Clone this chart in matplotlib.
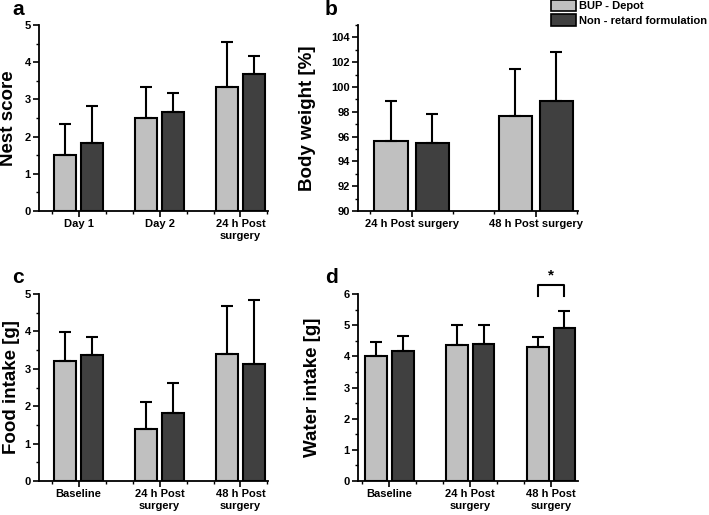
import matplotlib
matplotlib.use("Agg")
import matplotlib.pyplot as plt
from matplotlib.patches import Patch
from matplotlib.ticker import MultipleLocator
import numpy as np

plt.rcParams['font.family'] = ['Liberation Sans', 'DejaVu Sans']
plt.rcParams['font.weight'] = 'bold'

series_names = ["BUP - Depot", "Non - retard formulation"]
colors = ["#c0c0c0", "#404040"]

# Panel a: Nest score
a_cats = ["Day 1", "Day 2", "24 h Post\nsurgery"]
a_depot = [1.50, 2.50, 3.33]
a_depot_err = [0.83, 0.83, 1.22]
a_nonret = [1.83, 2.67, 3.67]
a_nonret_err = [0.99, 0.51, 0.51]

# Panel b: Body weight
b_cats = ["24 h Post surgery", "48 h Post surgery"]
b_depot = [95.65, 97.70]
b_depot_err = [3.22, 3.72]
b_nonret = [95.48, 98.85]
b_nonret_err = [2.38, 3.97]

# Panel c: Food intake
c_cats = ["Baseline", "24 h Post\nsurgery", "48 h Post\nsurgery"]
c_depot = [3.21, 1.40, 3.39]
c_depot_err = [0.78, 0.70, 1.30]
c_nonret = [3.37, 1.83, 3.14]
c_nonret_err = [0.49, 0.78, 1.69]

# Panel d: Water intake
d_cats = ["Baseline", "24 h Post\nsurgery", "48 h Post\nsurgery"]
d_depot = [4.02, 4.37, 4.31]
d_depot_err = [0.43, 0.63, 0.30]
d_nonret = [4.18, 4.41, 4.92]
d_nonret_err = [0.46, 0.61, 0.54]

W, H = 709, 515
fig = plt.figure(figsize=(W/100, H/100), dpi=100)

def px_axes(l, r, t, b):
    return fig.add_axes([l/W, 1-b/H, (r-l)/W, (b-t)/H])

def panel(ax, cats, v1, e1, v2, e2, ylim, ymaj, ymin, xlim, ylabel, labx):
    x = np.arange(len(cats))
    w = 0.27
    off = 0.166
    ekw = dict(ecolor='black', elinewidth=1.5, capsize=4, capthick=1.5)
    ax.bar(x-off, v1, w, color=colors[0], edgecolor='black', linewidth=1.5,
           yerr=[np.zeros(len(v1)), e1], error_kw=ekw, zorder=2)
    ax.bar(x+off, v2, w, color=colors[1], edgecolor='black', linewidth=1.5,
           yerr=[np.zeros(len(v2)), e2], error_kw=ekw, zorder=2)
    ax.set_xlim(*xlim)
    ax.set_ylim(*ylim)
    ax.set_xticks(x)
    ax.set_xticklabels(cats, fontsize=8, fontweight='bold')
    ax.xaxis.set_minor_locator(MultipleLocator(1/3))
    ax.yaxis.set_major_locator(MultipleLocator(ymaj))
    ax.yaxis.set_minor_locator(MultipleLocator(ymin))
    ax.tick_params(which='major', direction='out', length=4, width=1.2, pad=2,
                   labelsize=8)
    ax.tick_params(which='minor', direction='out', length=2, width=1.0)
    ax.spines['top'].set_visible(False)
    ax.spines['right'].set_visible(False)
    ax.spines['left'].set_linewidth(1.3)
    ax.spines['bottom'].set_linewidth(1.3)
    ax.set_ylabel(ylabel, fontsize=13.5, fontweight='bold')
    ax.yaxis.set_label_coords(labx, 0.5)

axa = px_axes(39, 268, 25, 211)
panel(axa, a_cats, a_depot, a_depot_err, a_nonret, a_nonret_err,
      (0, 5), 1, 0.5, (-0.49, 2.34), "Nest score", -0.095)

axb = px_axes(358, 578, 25, 211)
panel(axb, b_cats, b_depot, b_depot_err, b_nonret, b_nonret_err,
      (90, 105), 2, 1, (-0.434, 1.34), "Body weight [%]", -0.19)
axb.set_yticks(np.arange(90, 105, 2))

axc = px_axes(39, 268, 294, 481)
panel(axc, c_cats, c_depot, c_depot_err, c_nonret, c_nonret_err,
      (0, 5), 1, 0.5, (-0.49, 2.34), "Food intake [g]", -0.085)

axd = px_axes(358, 578, 294, 481)
panel(axd, d_cats, d_depot, d_depot_err, d_nonret, d_nonret_err,
      (0, 6), 1, 0.5, (-0.386, 2.333), "Water intake [g]", -0.17)

for ax in (axa, axb, axc, axd):
    for lbl in ax.get_yticklabels() + ax.get_xticklabels():
        lbl.set_fontweight('bold')

# significance bracket in d
bx1, bx2 = 2 - 0.166, 2 + 0.166
axd.plot([bx1, bx1, bx2, bx2], [5.93, 6.28, 6.28, 5.93], color='black',
         lw=1.5, clip_on=False)
axd.text(2, 6.38, "*", ha='center', va='bottom', fontsize=11, fontweight='bold')

# panel letters
fig.text(12/W, 1-15/H, "a", fontsize=15, fontweight='bold', va='baseline')
fig.text(325/W, 1-15/H, "b", fontsize=15, fontweight='bold', va='baseline')
fig.text(12/W, 1-283/H, "c", fontsize=15, fontweight='bold', va='baseline')
fig.text(325/W, 1-283/H, "d", fontsize=15, fontweight='bold', va='baseline')

handles = [Patch(facecolor=colors[0], edgecolor='black', linewidth=1.2),
           Patch(facecolor=colors[1], edgecolor='black', linewidth=1.2)]
fig.legend(handles, series_names, loc='upper left', bbox_to_anchor=(551/W, 1.0),
           frameon=False, prop={'size': 8, 'weight': 'bold'}, borderpad=0,
           borderaxespad=0, handlelength=2.25, handleheight=1.2,
           handletextpad=0.3, labelspacing=0.25)

fig.savefig("out.png", dpi=100)
